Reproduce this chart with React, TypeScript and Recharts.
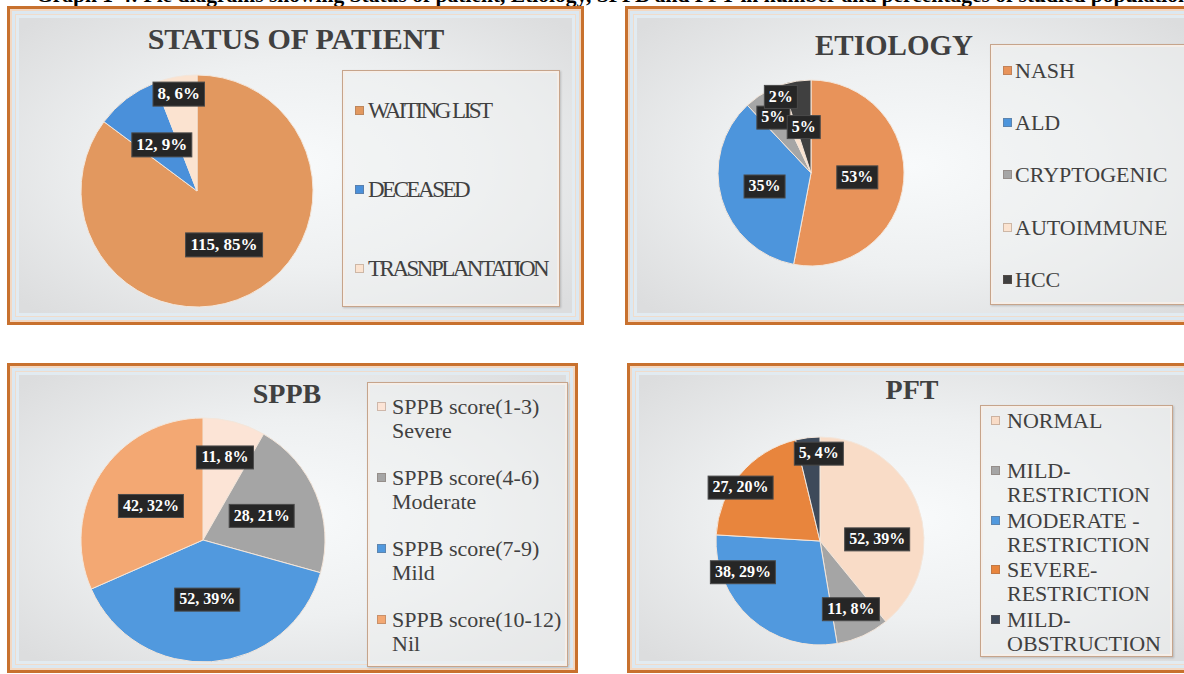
import { PieChart, Pie, Cell, Legend } from 'recharts';

const CAPTION =
  'Graph 1-4: Pie diagrams showing Status of patient, Etiology, SPPB and PFT in number and percentages of studied population';

const statusNames = ['WAITING LIST', 'DECEASED', 'TRASNPLANTATION'];
const statusCounts = [115, 12, 8];

const etiologyNames = ['NASH', 'ALD', 'CRYPTOGENIC', 'AUTOIMMUNE', 'HCC'];
const etiologyPercents = [53, 35, 5, 2, 5];

const sppbNames = [
  'SPPB score(1-3) Severe',
  'SPPB score(4-6) Moderate',
  'SPPB score(7-9) Mild',
  'SPPB score(10-12) Nil',
];
const sppbCounts = [11, 28, 52, 42];

const pftNames = ['NORMAL', 'MILD-RESTRICTION', 'MODERATE -RESTRICTION', 'SEVERE-RESTRICTION', 'MILD-OBSTRUCTION'];
const pftCounts = [52, 11, 38, 27, 5];

const FONT = '"Liberation Serif", "Times New Roman", serif';
const TEXT = '#404040';
const RAD = Math.PI / 180;

// rough Times bold widths for the label boxes
const charW = (c: string) => (c === '%' ? 1.0 : c === ',' || c === ' ' ? 0.25 : 0.5);
const textW = (s: string, fs: number) => s.split('').reduce((a, c) => a + charW(c), 0) * fs;

type LegendCfg = {
  left: number;
  top: number;
  width: number;
  height: number;
  fontSize: number;
  letterSpacing?: number;
  lineH: number;
  sqX: number;
  textX: number;
  align: 'center' | 'flex-start';
  padTop?: number;
};

type PanelCfg = {
  left: number;
  top: number;
  width: number;
  height: number;
  title: string;
  titleX: number;
  titleBase: number;
  titleSize: number;
  names: string[];
  values: number[];
  colors: string[];
  cx: number;
  cy: number;
  r: number;
  labelPos: { f: number; da: number }[];
  showValue: boolean;
  labelSize: number;
  legend: LegendCfg;
};

const makeLabel = (cfg: PanelCfg) => (props: any) => {
  const { cx, cy, midAngle, outerRadius, value, percent, index } = props;
  const pos = cfg.labelPos[index];
  const a = midAngle - pos.da;
  const rr = outerRadius * pos.f;
  const x = cx + rr * Math.cos(-a * RAD);
  const y = cy + rr * Math.sin(-a * RAD);
  const pct = Math.round(percent * 100);
  const text = cfg.showValue ? `${value}, ${pct}%` : `${pct}%`;
  const w = textW(text, cfg.labelSize) + 9;
  const h = cfg.labelSize + 7;
  return (
    <g key={`lbl-${index}`}>
      <rect x={x - w / 2} y={y - h / 2} width={w} height={h} fill="#262626" stroke="#4a4a4a" strokeWidth={1} />
      <text
        x={x}
        y={y + 1}
        textAnchor="middle"
        dominantBaseline="middle"
        fill="#ffffff"
        fontFamily={FONT}
        fontWeight="bold"
        fontSize={cfg.labelSize}
      >
        {text}
      </text>
    </g>
  );
};

const makeLegend = (cfg: PanelCfg) => () => {
  const lg = cfg.legend;
  const slot = (lg.height - (lg.padTop || 0)) / cfg.names.length;
  return (
    <div
      style={{
        width: lg.width,
        height: lg.height,
        boxSizing: 'border-box',
        border: '1px solid #C6A48B',
        boxShadow: 'inset 0 0 0 2px #F5EEE8, 1px 1px 2px rgba(0,0,0,0.18)',
        background: 'rgba(238,240,241,0.55)',
        paddingTop: lg.padTop || 0,
        fontFamily: FONT,
        color: TEXT,
      }}
    >
      {cfg.names.map((n, i) => (
        <div key={n} style={{ height: slot, display: 'flex', alignItems: lg.align }}>
          <div style={{ position: 'relative', width: '100%' }}>
            <span
              style={{
                position: 'absolute',
                left: lg.sqX,
                top: lg.lineH / 2 - 5,
                width: 9,
                height: 9,
                background: cfg.colors[i],
                border: '1px solid rgba(120,100,90,0.35)',
                boxSizing: 'border-box',
              }}
            />
            <div
              style={{
                marginLeft: lg.textX,
                width: lg.width - lg.textX - 6,
                fontSize: lg.fontSize,
                lineHeight: `${lg.lineH}px`,
                letterSpacing: lg.letterSpacing || 0,
                whiteSpace: 'normal',
              }}
            >
              {n}
            </div>
          </div>
        </div>
      ))}
    </div>
  );
};

const Panel = ({ cfg }: { cfg: PanelCfg }) => {
  const data = cfg.names.map((name, i) => ({ name, value: cfg.values[i] }));
  return (
    <div style={{ position: 'absolute', left: cfg.left, top: cfg.top, width: cfg.width, height: cfg.height }}>
      <div
        style={{
          position: 'absolute',
          inset: 0,
          boxSizing: 'border-box',
          border: '3px solid #C8712E',
          background:
            'radial-gradient(ellipse 65% 65% at 50% 50%, #F8FAFB 0%, #EEF0F1 50%, #DCDDDE 100%)',
          boxShadow:
            'inset 0 0 0 2px #F3D8C2, inset 0 0 0 5px #DCE8F1, inset 0 0 0 6px #F0DCCB, inset 0 0 0 9px #E2EBF1',
        }}
      />
      <div
        style={{
          position: 'absolute',
          left: cfg.titleX - 250,
          width: 500,
          top: cfg.titleBase - 0.8375 * cfg.titleSize,
          textAlign: 'center',
          fontFamily: FONT,
          fontWeight: 'bold',
          fontSize: cfg.titleSize,
          lineHeight: `${cfg.titleSize}px`,
          color: TEXT,
        }}
      >
        {cfg.title}
      </div>
      <div style={{ position: 'absolute', left: 0, top: 0 }}>
        <PieChart width={cfg.width} height={cfg.height} margin={{ top: 0, right: 0, bottom: 0, left: 0 }}>
          <Pie
            data={data}
            dataKey="value"
            nameKey="name"
            cx={cfg.cx}
            cy={cfg.cy}
            outerRadius={cfg.r}
            startAngle={90}
            endAngle={-270}
            stroke="#F4E6DA"
            strokeWidth={1}
            label={makeLabel(cfg)}
            labelLine={false}
            isAnimationActive={false}
          >
            {data.map((d, i) => (
              <Cell key={d.name} fill={cfg.colors[i]} />
            ))}
          </Pie>
          <Legend
            layout="vertical"
            align="right"
            verticalAlign="middle"
            content={makeLegend(cfg)}
            wrapperStyle={{
              left: cfg.legend.left,
              top: cfg.legend.top,
              width: cfg.legend.width,
              height: cfg.legend.height,
            }}
          />
        </PieChart>
      </div>
    </div>
  );
};

const panels: PanelCfg[] = [
  {
    left: 7,
    top: 6,
    width: 577,
    height: 319,
    title: 'STATUS OF PATIENT',
    titleX: 289,
    titleBase: 43,
    titleSize: 30,
    names: statusNames,
    values: statusCounts,
    colors: ['#E2985F', '#4A90DA', '#FBE3D0'],
    cx: 190,
    cy: 185,
    r: 116,
    labelPos: [
      { f: 0.52, da: 0 },
      { f: 0.5, da: 0 },
      { f: 0.85, da: 0 },
    ],
    showValue: true,
    labelSize: 17,
    legend: {
      left: 335,
      top: 64,
      width: 218,
      height: 237,
      fontSize: 23,
      letterSpacing: -2.5,
      lineH: 26,
      sqX: 12,
      textX: 25,
      align: 'center',
    },
  },
  {
    left: 625,
    top: 6,
    width: 575,
    height: 319,
    title: 'ETIOLOGY',
    titleX: 269,
    titleBase: 49,
    titleSize: 29,
    names: etiologyNames,
    values: etiologyPercents,
    colors: ['#E8935A', '#4D95DC', '#A6A6A6', '#FBE3D0', '#404040'],
    cx: 186,
    cy: 167,
    r: 93,
    labelPos: [
      { f: 0.5, da: 0 },
      { f: 0.52, da: 0 },
      { f: 0.72, da: 0 },
      { f: 0.88, da: 0 },
      { f: 0.5, da: 0 },
    ],
    showValue: false,
    labelSize: 16,
    legend: {
      left: 365,
      top: 38,
      width: 205,
      height: 261,
      fontSize: 22,
      lineH: 26,
      sqX: 12,
      textX: 24,
      align: 'center',
    },
  },
  {
    left: 7,
    top: 363,
    width: 571,
    height: 310,
    title: 'SPPB',
    titleX: 280,
    titleBase: 40,
    titleSize: 28,
    names: sppbNames,
    values: sppbCounts,
    colors: ['#FCE4D6', '#A5A5A5', '#5199DE', '#F3A873'],
    cx: 196,
    cy: 177,
    r: 122,
    labelPos: [
      { f: 0.7, da: 0 },
      { f: 0.52, da: 0 },
      { f: 0.49, da: 0 },
      { f: 0.51, da: 0 },
    ],
    showValue: true,
    labelSize: 16,
    legend: {
      left: 360,
      top: 19,
      width: 201,
      height: 285,
      fontSize: 22,
      lineH: 24,
      sqX: 9,
      textX: 24,
      align: 'center',
    },
  },
  {
    left: 627,
    top: 363,
    width: 575,
    height: 310,
    title: 'PFT',
    titleX: 285,
    titleBase: 36,
    titleSize: 28,
    names: pftNames,
    values: pftCounts,
    colors: ['#F9DCC7', '#A5A5A5', '#5199DE', '#E8853D', '#3E4A5A'],
    cx: 193,
    cy: 178,
    r: 104,
    labelPos: [
      { f: 0.55, da: 18 },
      { f: 0.72, da: 0 },
      { f: 0.8, da: 26 },
      { f: 0.92, da: -6 },
      { f: 0.84, da: 6 },
    ],
    showValue: true,
    labelSize: 16,
    legend: {
      left: 353,
      top: 42,
      width: 193,
      height: 252,
      fontSize: 22,
      lineH: 24,
      sqX: 10,
      textX: 26,
      align: 'flex-start',
      padTop: 3,
    },
  },
];

export default function App() {
  return (
    <div
      style={{
        position: 'absolute',
        left: 0,
        top: 0,
        width: 1184,
        height: 674,
        overflow: 'hidden',
        background: '#ffffff',
      }}
    >
      <div
        style={{
          position: 'absolute',
          left: 36,
          top: -15,
          whiteSpace: 'nowrap',
          fontFamily: FONT,
          fontWeight: 'bold',
          fontSize: 21.5,
          lineHeight: '21.5px',
          color: '#000',
        }}
      >
        {CAPTION}
      </div>
      {panels.map((p) => (
        <Panel key={p.title} cfg={p} />
      ))}
    </div>
  );
}
